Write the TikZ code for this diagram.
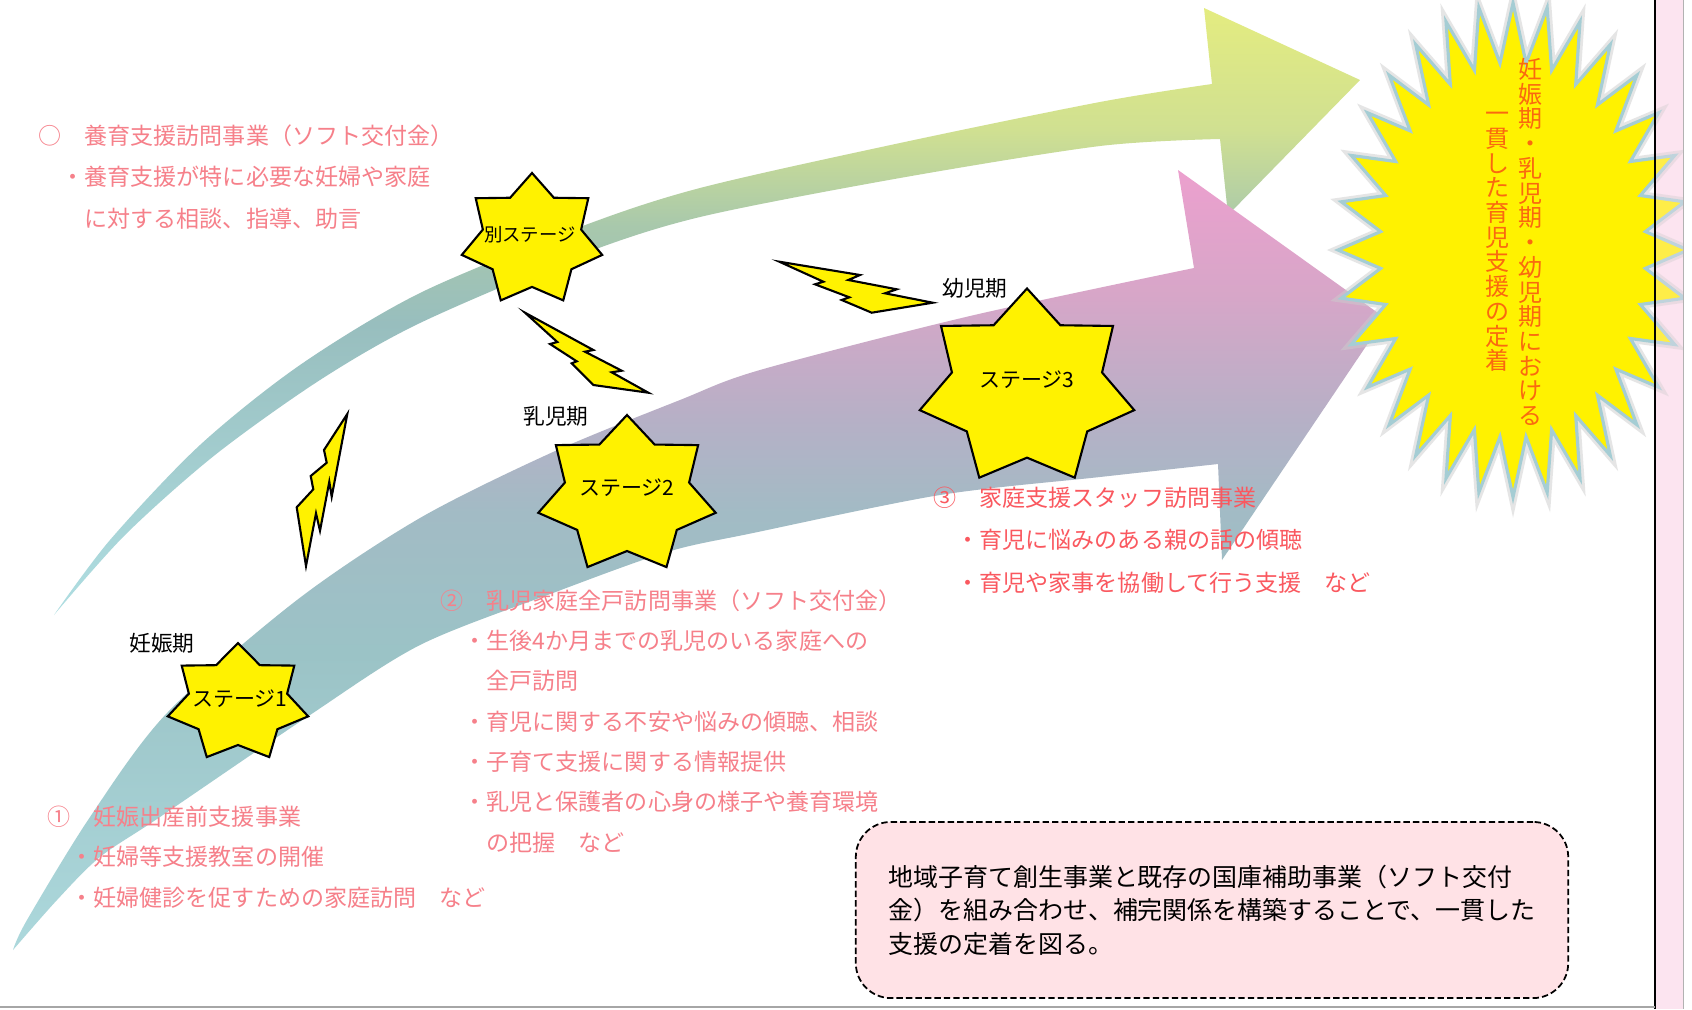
\documentclass[tikz,border=0pt]{standalone}
\usepackage{fontspec}
\setmainfont{Noto Sans CJK JP}
\usepackage{tikz}

\definecolor{jigyopink}{RGB}{246,128,138}
\definecolor{jigyored}{RGB}{250,88,95}
\definecolor{teichaku}{RGB}{250,105,15}
\definecolor{burstedge}{RGB}{165,205,212}
\definecolor{stripfill}{RGB}{252,228,240}
\definecolor{boxfill}{RGB}{255,226,230}
\definecolor{ga1}{RGB}{228,236,128}
\definecolor{ga2}{RGB}{208,224,145}
\definecolor{ga3}{RGB}{168,200,172}
\definecolor{ga4}{RGB}{152,190,190}
\definecolor{ga5}{RGB}{175,222,226}
\definecolor{pa1}{RGB}{236,160,206}
\definecolor{pa2}{RGB}{215,166,200}
\definecolor{pa3}{RGB}{182,176,198}
\definecolor{pa4}{RGB}{162,187,197}
\definecolor{pa5}{RGB}{155,195,198}
\definecolor{pa6}{RGB}{172,216,220}

\pgfdeclareverticalshading{greenarrow}{100bp}{color(0bp)=(ga5); color(25bp)=(ga5); color(49bp)=(ga4); color(57bp)=(ga3); color(65bp)=(ga2); color(75bp)=(ga1); color(100bp)=(ga1)}
\pgfdeclareverticalshading{pinkarrow}{100bp}{color(0bp)=(pa6); color(25bp)=(pa6); color(44bp)=(pa5); color(53bp)=(pa4); color(59bp)=(pa3); color(67bp)=(pa2); color(75bp)=(pa1); color(100bp)=(pa1)}

% seven pointed star: centre x, centre y, radius x, radius y
\newcommand{\stagestar}[4]{plot[samples at={0,...,13},variable=\k] ({#1+#3*(0.85+0.15*cos(180*\k))*cos(90+\k*180/7)},{#2-#4*(0.85+0.15*cos(180*\k))*sin(90+\k*180/7)}) -- cycle}
\newcommand{\burstpath}{plot[samples at={0,...,63},variable=\k] ({1513+175*(0.88+0.12*cos(180*\k))*cos(90+\k*5.625)},{250-247*(0.88+0.12*cos(180*\k))*sin(90+\k*5.625)}) -- cycle}

\tikzset{
  starline/.style={draw=black, fill=yellow, line width=0.6pt},
  boltline/.style={draw=black, fill=yellow, line width=0.6pt, line join=miter},
  stagetext/.style={font=\fontsize{5.97pt}{7pt}\selectfont, inner sep=0pt},
  periodtext/.style={font=\fontsize{6.17pt}{7pt}\selectfont, inner sep=0pt},
  jigyo/.style={text=jigyopink, align=left, anchor=base west, inner sep=0pt},
  tatetext/.style={text=teichaku, align=center, inner sep=0pt, font=\fontsize{6.83pt}{7.03pt}\selectfont},
  summarybox/.style={draw=black, fill=boxfill, line width=0.5pt, dash pattern=on 1.8pt off 0.9pt, rounded corners=0.35cm, minimum width=7.12cm, minimum height=1.76cm, align=left, font=\fontsize{7.1pt}{9.53pt}\selectfont}
}

\begin{document}
\begin{tikzpicture}[x=0.01cm,y=-0.01cm]
\useasboundingbox (0,0) rectangle (1692,1009);
\fill[white] (0,0) rectangle (1692,1009);

% the two curved arrows
\shade[shading=greenarrow] plot[smooth] coordinates {(54,615) (110,540) (200,445) (300,365) (420,293) (580,227) (700,188) (900,143) (1100,102) (1212,84)}
  -- (1204,8) -- (1360,80) -- (1228,215) -- (1220,139)
  -- plot[smooth] coordinates {(1220,139) (1100,146) (900,178) (700,217) (580,255) (420,323) (320,380) (215,455) (125,535) (54,615)} -- cycle;
\shade[shading=pinkarrow] plot[smooth] coordinates {(13,950) (27,920) (90,817) (167,713) (297,600) (420,518) (553,452) (680,400) (760,370) (970,316) (1194,268)}
  -- (1178,170) -- (1385,318) -- (1222,560) -- (1218,464)
  -- plot[smooth] coordinates {(1218,464) (1100,477) (940,495) (753,533) (667,552) (553,593) (420,645) (307,717) (160,817) (100,857) (57,900) (13,950)} -- cycle;

% right margin
\fill[stripfill] (1656,0) rectangle (1683,1009);
\begin{scope}
  \clip (0,0) rectangle (1683,1009);
  \draw[gray!40, opacity=.5, line width=2.5pt] \burstpath;
  \draw[burstedge, fill=yellow, line width=0.9pt] \burstpath;
\end{scope}
\fill[stripfill, opacity=.3] (1656,0) rectangle (1683,1009);
\draw[line width=0.6pt] (1655,0) -- (1655,1009);
\draw[gray!60, line width=0.3pt] (1683,0) -- (1683,1009);
\draw[gray!70, line width=0.6pt] (0,1007) -- (1655,1007);

\node[tatetext] (tate1) at (1530,242) {妊\\娠\\期\\・\\乳\\児\\期\\・\\幼\\児\\期\\に\\お\\け\\る};
\node[tatetext] (tate2) at (1497,242) {一\\貫\\し\\た\\育\\児\\支\\援\\の\\定\\着};

% project texts (anchored at the last baseline)
\node[jigyo, font=\fontsize{6.55pt}{11.8pt}\selectfont] (yoiku) at (38,227) {○　養育支援訪問事業（ソフト交付金）\\　・養育支援が特に必要な妊婦や家庭\\　　に対する相談、指導、助言};
\node[jigyo, font=\fontsize{6.55pt}{11.4pt}\selectfont] (jigyo1) at (47,906) {①　妊娠出産前支援事業\\　・妊婦等支援教室の開催\\　・妊婦健診を促すための家庭訪問　など};
\node[jigyo, font=\fontsize{6.55pt}{11.47pt}\selectfont] (jigyo2) at (440,851) {②　乳児家庭全戸訪問事業（ソフト交付金）\\　・生後4か月までの乳児のいる家庭への\\　　全戸訪問\\　・育児に関する不安や悩みの傾聴、相談\\　・子育て支援に関する情報提供\\　・乳児と保護者の心身の様子や養育環境\\　　の把握　など};
\node[jigyo, text=jigyored, font=\fontsize{6.55pt}{11.95pt}\selectfont] (jigyo3) at (933,591) {③　家庭支援スタッフ訪問事業\\　・育児に悩みのある親の話の傾聴\\　・育児や家事を協働して行う支援　など};

% lightning bolts
\draw[boltline] (347.3,414) -- (324,450) -- (326.7,462.7) -- (310.7,476) -- (313.3,489.3) -- (296.7,507.3) -- (306,566) -- (316,513.3) -- (320,530.7) -- (329.3,481.7) -- (331.7,496.7) -- cycle;
\draw[boltline] (525,312.7) -- (593.3,350) -- (585,351.7) -- (621.7,370.7) -- (611.7,372.3) -- (648.3,392.7) -- (593.3,385) -- (571.7,363.3) -- (576.7,361.3) -- (550,344) -- (557.3,342) -- cycle;
\draw[boltline] (779.3,261.7) -- (860,275) -- (848.3,280) -- (896.7,289.3) -- (885,293.3) -- (932.7,302.7) -- (871.7,312.7) -- (841.7,300) -- (849.3,297.3) -- (815,284.3) -- (823.3,281.7) -- cycle;

% stages
\draw[starline] \stagestar{532}{240}{72}{67};
\draw[starline] \stagestar{238}{703}{72}{60};
\draw[starline] \stagestar{627}{495}{91}{80};
\draw[starline] \stagestar{1027}{388}{110}{99.5};
\node[stagetext, font=\fontsize{5.23pt}{6pt}\selectfont] (st0) at (530,235) {別ステージ};
\node[stagetext] (st1) at (240,699) {ステージ1};
\node[stagetext] (st2) at (627,488) {ステージ2};
\node[stagetext] (st3) at (1027,380) {ステージ3};

\node[periodtext] (ninshin) at (162,643) {妊娠期};
\node[periodtext] (nyuji) at (556,416) {乳児期};
\node[periodtext] (yoji) at (975,288) {幼児期};

\node[summarybox] (summary) at (1212,910) {地域子育て創生事業と既存の国庫補助事業（ソフト交付\\金）を組み合わせ、補完関係を構築することで、一貫した\\支援の定着を図る。};
\end{tikzpicture}
\end{document}
